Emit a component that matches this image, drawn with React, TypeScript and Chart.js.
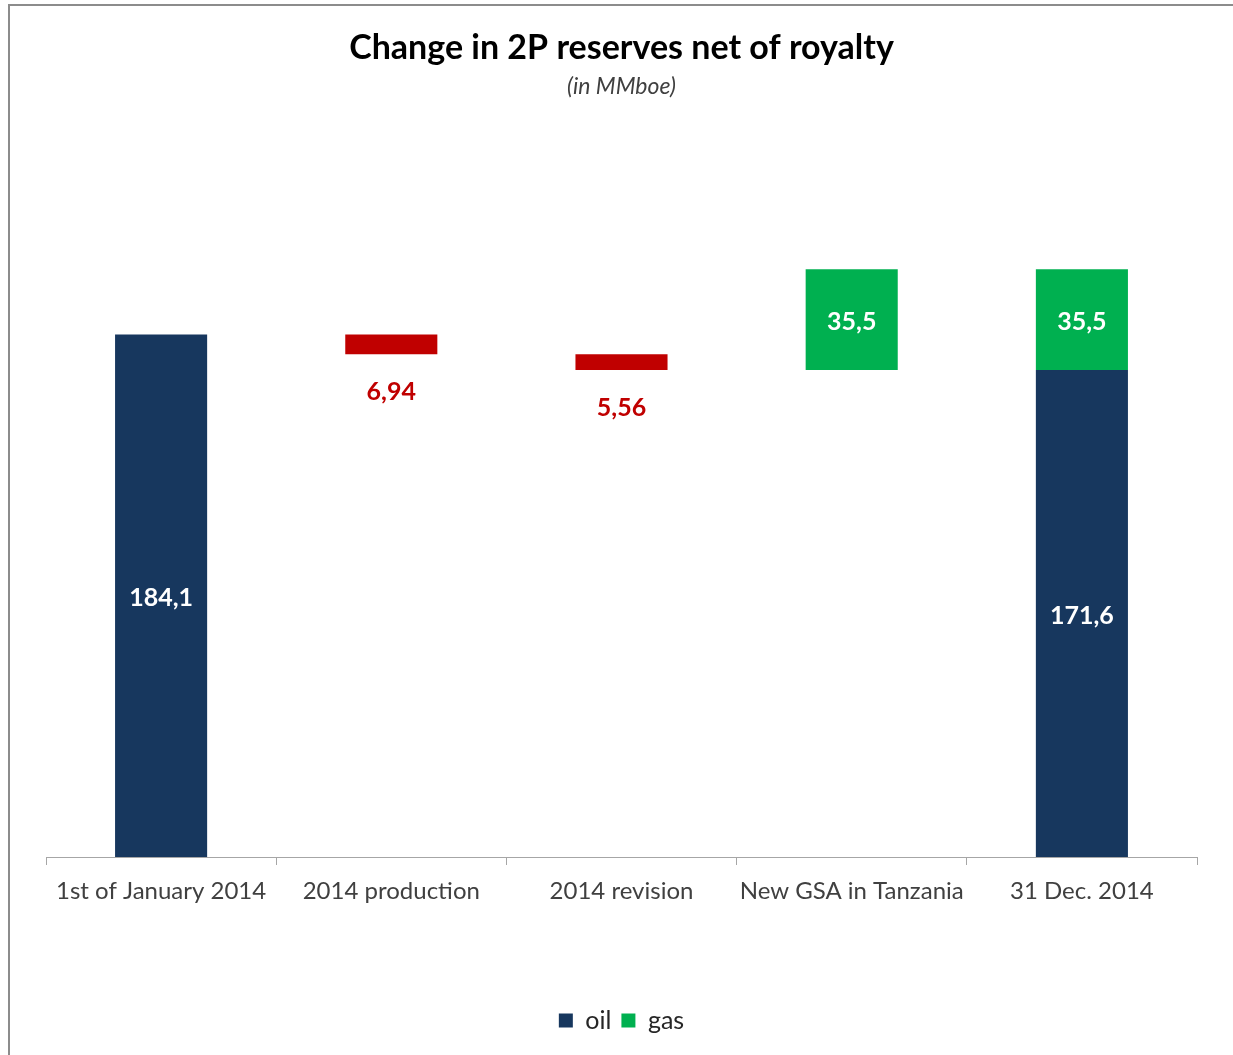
import React, { useEffect, useRef } from "react";
import { Chart, registerables } from "chart.js";

Chart.register(...registerables);

const categories = [
  "1st of January 2014",
  "2014 production",
  "2014 revision",
  "New GSA in Tanzania",
  "31 Dec. 2014",
];
const openingOil = 184.1;
const production = 6.94;
const revision = 5.56;
const gsaGas = 35.5;
const closingOil = 171.6;

const oilValues = [openingOil, null, null, null, closingOil];
const decreaseValues = [null, production, revision, null, null];
const gasValues = [null, null, null, gsaGas, gsaGas];

const NAVY = "#17375e";
const RED = "#c00000";
const GREEN = "#00b050";
const FONT = "Lato";

const fmt = (v: number) => String(v).replace(".", ",");

export default function App() {
  const ref = useRef<HTMLCanvasElement | null>(null);

  useEffect(() => {
    if (!ref.current) return;

    // floating bars for decreases: running total going down
    let running = openingOil;
    const decreaseData = decreaseValues.map((v) => {
      if (v == null) return null;
      const top = running;
      running = running - v;
      return [running, top];
    });
    const gasData = gasValues.map((v, i) => {
      if (v == null) return null;
      const base = i === categories.length - 1 ? (oilValues[i] as number) : running;
      return [base, base + v];
    });

    const labelPlugin = {
      id: "valueLabels",
      afterDatasetsDraw(chart: any) {
        const ctx = chart.ctx;
        ctx.save();
        ctx.textAlign = "center";
        ctx.textBaseline = "middle";
        ctx.font = `bold 25px ${FONT}`;
        chart.data.datasets.forEach((ds: any, di: number) => {
          const meta = chart.getDatasetMeta(di);
          meta.data.forEach((el: any, i: number) => {
            const raw = ds.rawValues[i];
            if (raw == null) return;
            const { x, y, base } = el.getProps(["x", "y", "base"], true);
            const top = Math.min(y, base);
            const bottom = Math.max(y, base);
            if (ds.kind === "decrease") {
              ctx.fillStyle = RED;
              ctx.fillText(fmt(raw), x, bottom + 38);
            } else {
              ctx.fillStyle = "#ffffff";
              ctx.fillText(fmt(raw), x, (top + bottom) / 2 + 2);
            }
          });
        });
        ctx.restore();
      },
    };

    const chart = new Chart(ref.current, {
      type: "bar",
      data: {
        labels: categories,
        datasets: [
          {
            label: "oil",
            data: oilValues as any,
            backgroundColor: NAVY,
            rawValues: oilValues,
            kind: "oil",
          } as any,
          {
            label: "decrease",
            data: decreaseData as any,
            backgroundColor: RED,
            rawValues: decreaseValues,
            kind: "decrease",
          } as any,
          {
            label: "gas",
            data: gasData as any,
            backgroundColor: GREEN,
            rawValues: gasValues,
            kind: "gas",
          } as any,
        ],
      },
      options: {
        responsive: false,
        animation: false,
        devicePixelRatio: 1,
        datasets: {
          bar: {
            grouped: false,
            barPercentage: 0.4,
            categoryPercentage: 1,
            borderWidth: 0,
          },
        },
        layout: { padding: { left: 46, right: 36, top: 0, bottom: 12 } },
        scales: {
          x: {
            offset: true,
            grid: {
              display: true,
              offset: true,
              drawOnChartArea: false,
              drawTicks: true,
              tickLength: 8,
              color: "#a6a6a6",
              lineWidth: 1,
            },
            border: { display: true, color: "#a6a6a6", width: 1 },
            ticks: {
              color: "#404040",
              padding: 12,
              font: { family: FONT, size: 24 },
              maxRotation: 0,
              autoSkip: false,
            },
            afterFit(scale: any) {
              scale.height = 141;
            },
          },
          y: {
            display: false,
            min: 0,
            max: 250,
          },
        },
        plugins: {
          title: {
            display: true,
            text: "Change in 2P reserves net of royalty",
            color: "#000000",
            font: { family: FONT, size: 34, weight: "bold" },
            padding: { top: 28, bottom: 0 },
          },
          subtitle: {
            display: true,
            text: "(in MMboe)",
            color: "#404040",
            font: { family: FONT, size: 23, style: "italic" },
            padding: { top: 4, bottom: 47 },
          },
          legend: {
            position: "bottom",
            labels: {
              color: "#262626",
              boxWidth: 14,
              boxHeight: 14,
              padding: 10,
              font: { family: FONT, size: 25 },
              filter: (item: any) => item.text !== "decrease",
            },
          },
          tooltip: { enabled: false },
        },
      } as any,
      plugins: [labelPlugin],
    });

    return () => chart.destroy();
  }, []);

  return (
    <div style={{ position: "fixed", left: 0, top: 0, width: 1233, height: 1055, background: "#fff", overflow: "hidden" }}>
      <div
        style={{
          position: "absolute",
          left: 8,
          top: 4,
          width: 1240,
          height: 1070,
          borderLeft: "2px solid #8c8c8c",
          borderTop: "2px solid #8c8c8c",
          boxSizing: "border-box",
        }}
      />
      <canvas
        ref={ref}
        width={1233}
        height={1055}
        style={{ position: "absolute", left: 0, top: 0, width: 1233, height: 1055, display: "block" }}
      />
    </div>
  );
}
